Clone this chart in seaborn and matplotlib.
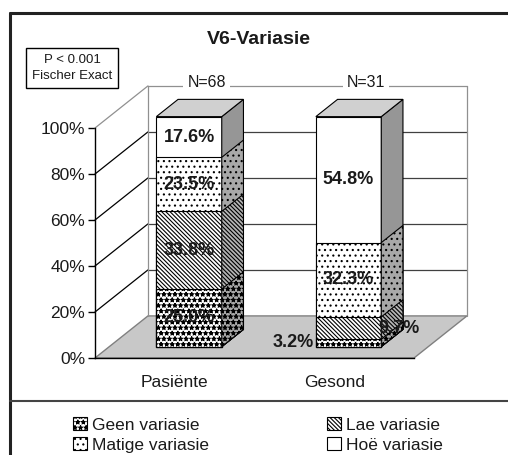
import matplotlib
matplotlib.use("Agg")
import numpy as np
import pandas as pd
import matplotlib.pyplot as plt
import seaborn as sns
from matplotlib.patches import Polygon, Patch
from matplotlib.lines import Line2D

# =========================
# DATA
# =========================
groups = ["Pasiënte", "Gesond"]
n_labels = ["N=68", "N=31"]
levels = ["Geen variasie", "Lae variasie", "Matige variasie", "Hoë variasie"]
geen = [25.0, 3.2]
lae = [33.8, 9.7]
matige = [23.5, 32.3]
hoe = [17.6, 54.8]
y_ticks = [0, 20, 40, 60, 80, 100]

# =========================
# STYLE
# =========================
sns.set_theme(style="white")
plt.rcParams["font.family"] = ["Liberation Sans", "DejaVu Sans"]
plt.rcParams["hatch.linewidth"] = 0.8

hatches = ["***", "\\" * 8, "...", ""]
side_colors = ["#a8a8a8", "#b4b4b4", "#a8a8a8", "#969696"]

# pseudo-3d geometry (data units)
DX, DY = 0.332, 18.3      # full depth of the box
F = 0.27                  # bar front plane, fraction of depth
D = 0.41                  # bar depth, fraction of depth
BAR_W = 0.41

df = pd.DataFrame({"groep": groups, "geen": geen, "lae": lae,
                   "matige": matige, "hoe": hoe})
cols = ["geen", "lae", "matige", "hoe"]
cum = df[cols].cumsum(axis=1)
cum["hoe"] = 100.0  # rounding
cum["groep"] = df["groep"]

fig = plt.figure(figsize=(5.08, 4.55), dpi=100)
ax = fig.add_axes([95 / 508, (455 - 358) / 455, 319 / 508, 230 / 455])
ax.patch.set_visible(False)

# =========================
# WALLS + FLOOR
# =========================
x0, x1 = -0.5, 1.5
floor = Polygon([(x0, 0), (x1, 0), (x1 + DX, DY), (x0 + DX, DY)],
                closed=True, facecolor="#c8c8c8", edgecolor="#808080",
                lw=1, zorder=0.5, clip_on=False)
ax.add_patch(floor)
for t in y_ticks[1:]:
    c = "#909090" if t == 100 else "black"
    ax.plot([x0, x0 + DX], [t, t + DY], color=c, lw=0.9, zorder=0.6, clip_on=False)
    ax.plot([x0 + DX, x1 + DX], [t + DY, t + DY],
            color="#909090" if t == 100 else "#404040", lw=0.9, zorder=0.6, clip_on=False)
for xx in [x0 + DX, x1 + DX]:
    ax.plot([xx, xx], [DY, 100 + DY], color="#909090", lw=0.9, zorder=0.6, clip_on=False)

# =========================
# BARS (cumulative overlay, top level first)
# =========================
z = 2
for i in reversed(range(len(cols))):
    n_before = len(ax.patches)
    sns.barplot(data=cum, x="groep", y=cols[i],
                color="white", saturation=1, width=BAR_W, errorbar=None,
                edgecolor="black", linewidth=0.8, hatch=hatches[i],
                zorder=z, ax=ax)
    for p in ax.patches[n_before:]:
        p.set_x(p.get_x() + F * DX)
        p.set_y(p.get_y() + F * DY)
        p.set_clip_on(False)
        xr = p.get_x() + p.get_width()
        b = p.get_y()
        t = b + p.get_height()
        side = Polygon([(xr, b), (xr + D * DX, b + D * DY),
                        (xr + D * DX, t + D * DY), (xr, t)],
                       closed=True, facecolor=side_colors[i], edgecolor="black",
                       lw=0.8, hatch=hatches[i], zorder=z, clip_on=False)
        ax.add_patch(side)
        if i == len(cols) - 1:
            xl = p.get_x()
            top = Polygon([(xl, t), (xr, t), (xr + D * DX, t + D * DY),
                           (xl + D * DX, t + D * DY)],
                          closed=True, facecolor="#d0d0d0", edgecolor="black",
                          lw=0.8, zorder=z, clip_on=False)
            ax.add_patch(top)
    z += 1

# value labels
for g in range(len(groups)):
    bottom = 0.0
    for i, c in enumerate(cols):
        v = df[c][g]
        xc = g + F * DX
        yc = bottom + v / 2 + F * DY
        if v < 5:
            ax.text(xc - BAR_W / 2 - 0.01, yc, f"{v:.1f}%", ha="right", va="center",
                    fontsize=13, weight="bold", color="#1a1a1a", zorder=20)
        elif v < 12:
            ax.text(xc + BAR_W / 2 - 0.02, yc, f"{v:.1f}%", ha="left", va="center",
                    fontsize=13, weight="bold", color="#1a1a1a", zorder=20)
        else:
            ax.text(xc, yc, f"{v:.1f}%", ha="center", va="center",
                    fontsize=13, weight="bold", color="#1a1a1a", zorder=20)
        bottom += v

# N labels on top of back wall
for g, lab in enumerate(n_labels):
    ax.text(g + 0.6 * DX, 100 + DY + 1.5, lab, ha="center", va="center",
            fontsize=11.5, color="#1a1a1a", zorder=20,
            bbox=dict(boxstyle="square,pad=0.25", fc="white", ec="none"))

# =========================
# AXES
# =========================
ax.set_xlim(x0, x1)
ax.set_ylim(0, 100)
ax.set_xlabel("")
ax.set_ylabel("")
ax.set_yticks(y_ticks)
ax.set_yticklabels([f"{t}%" for t in y_ticks], fontsize=12.5, color="#1a1a1a")
ax.set_xticks(range(len(groups)))
ax.set_xticklabels(groups, fontsize=12.5, color="#1a1a1a")
ax.set_xticks([-0.5, 0.5, 1.5], minor=True)
ax.tick_params(axis="x", which="major", length=0, pad=12)
ax.tick_params(axis="x", which="minor", length=5, width=1, color="black", direction="out")
ax.tick_params(axis="y", length=5, width=1, color="black", direction="out", left=True, pad=2)
for s in ["top", "right"]:
    ax.spines[s].set_visible(False)
for s in ["left", "bottom"]:
    ax.spines[s].set_color("black")
    ax.spines[s].set_linewidth(1)
    ax.spines[s].set_zorder(3)

# =========================
# FIGURE DECORATION
# =========================
fig.text(259 / 508, 1 - 39 / 455, "V6-Variasie", ha="center", va="center",
         fontsize=14, weight="bold", color="#1a1a1a")
fig.text(72 / 508, 1 - 68 / 455, "P < 0.001\nFischer Exact", ha="center", va="center",
         fontsize=9.5, color="#1a1a1a", linespacing=1.45,
         bbox=dict(boxstyle="square,pad=0.45", fc="white", ec="black", lw=1))

fig.add_artist(Line2D([9.5 / 508, 9.5 / 508], [0, 1 - 12.5 / 455],
                      transform=fig.transFigure, color="#222222", lw=2.2))
fig.add_artist(Line2D([9.5 / 508, 1], [1 - 12.5 / 455, 1 - 12.5 / 455],
                      transform=fig.transFigure, color="#222222", lw=2.2))
fig.add_artist(Line2D([9.5 / 508, 1], [1 - 401 / 455, 1 - 401 / 455],
                      transform=fig.transFigure, color="#444444", lw=1.5))

handles = [Patch(facecolor="white", edgecolor="black", hatch=hatches[i], lw=0.8)
           for i in range(len(levels))]
order = [0, 2, 1, 3]
fig.legend([handles[k] for k in order], [levels[k] for k in order],
           ncol=2, loc="center", bbox_to_anchor=(258 / 508, 1 - 435 / 455),
           frameon=False, fontsize=12.5, handlelength=0.8, handleheight=0.8,
           handletextpad=0.3, columnspacing=6.8, labelspacing=0.25,
           labelcolor="#1a1a1a")

fig.savefig("out.png", dpi=100)
